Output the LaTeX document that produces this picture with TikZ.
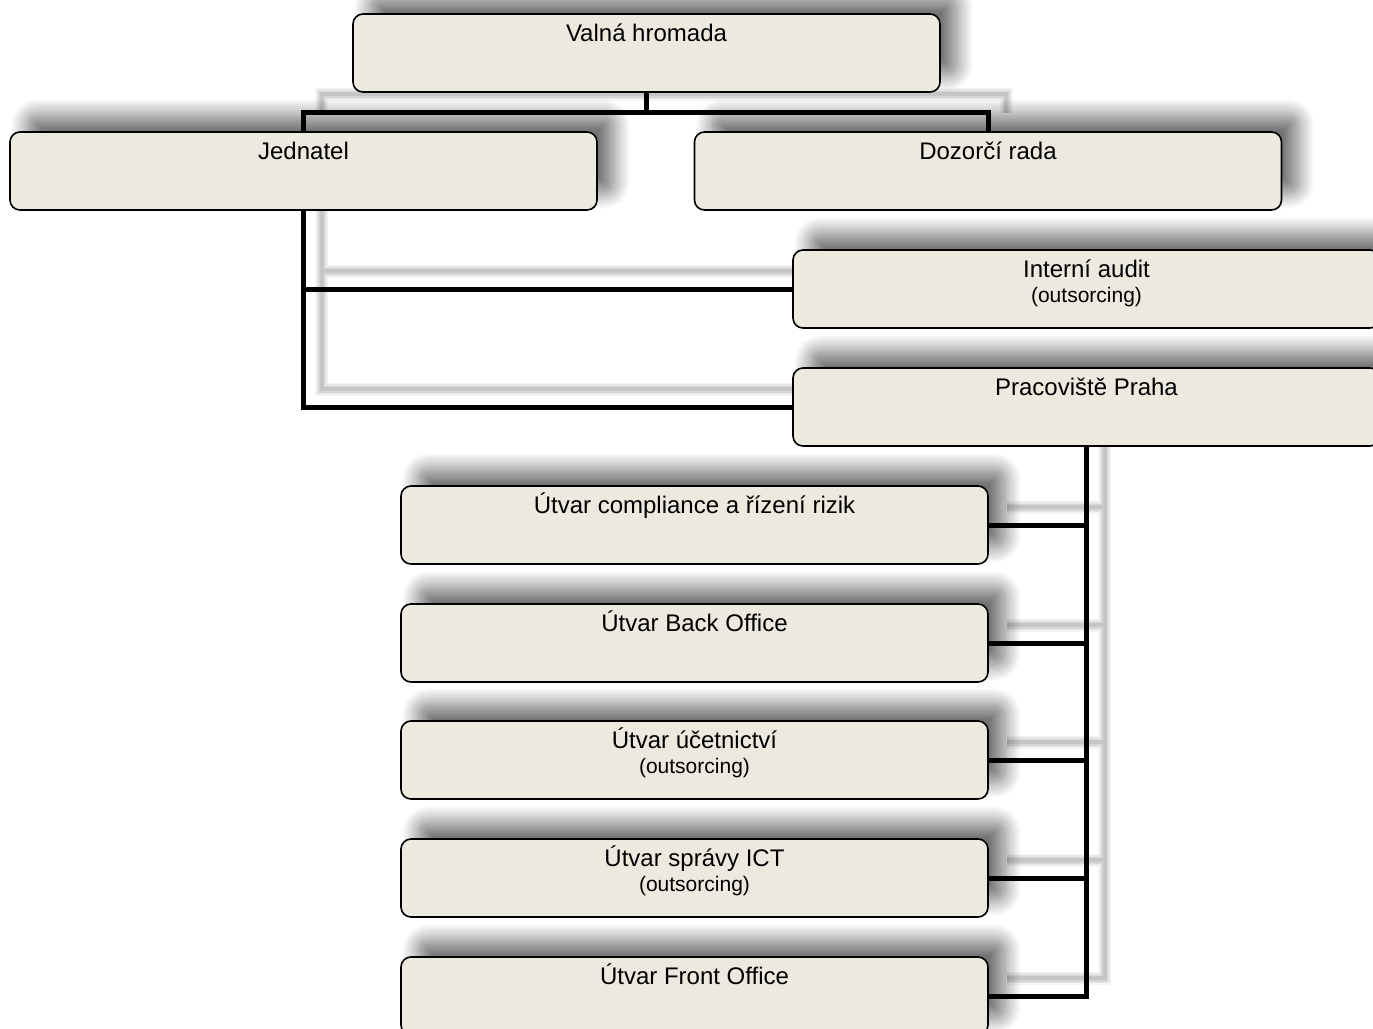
\documentclass[tikz,border=0pt]{standalone}
\usepackage{fontspec}
\setmainfont{Liberation Sans}
\usetikzlibrary{shadows.blur}
\definecolor{boxfill}{RGB}{236,233,223}
\pgfdeclarelayer{back}
\pgfsetlayers{back,main}
\newcommand{\notefont}{\fontsize{10.5}{12.5}\selectfont}
\newcommand{\twoline}[2]{\begin{tabular}[t]{@{}c@{}}#1\\\notefont #2\end{tabular}}
\tikzset{
  unit/.style={draw=black, line width=0.8pt, fill=boxfill, rounded corners=5pt,
    minimum width=293.5pt, minimum height=39pt, inner ysep=0pt,
    text height=13.5pt, text depth=25.5pt,
    font=\fontsize{12}{12.5}\selectfont,
    blur shadow={shadow xshift=8.5pt, shadow yshift=8.5pt, shadow blur radius=8pt,
      shadow blur steps=16, shadow opacity=55}},
  wire/.style={draw=black, line width=2.5pt,
    preaction={draw=black!70, line width=6.5pt, opacity=.06, transform canvas={shift={(9pt,9pt)}}},
    preaction={draw=black!70, line width=5pt, opacity=.08, transform canvas={shift={(9pt,9pt)}}},
    preaction={draw=black!70, line width=3.5pt, opacity=.1, transform canvas={shift={(9pt,9pt)}}},
    preaction={draw=black!70, line width=2pt, opacity=.12, transform canvas={shift={(9pt,9pt)}}}}
}
\begin{document}
\begin{tikzpicture}[x=0.5pt,y=-0.5pt]
\path[use as bounding box,clip] (0,0) rectangle (1373,1029);
\node[unit] (valna) at (646.5,53) {Valná hromada};
\node[unit] (jednatel) at (303.5,171) {Jednatel};
\node[unit] (dozorci) at (988,171) {Dozorčí rada};
\node[unit] (audit) at (1086.5,289) {\twoline{Interní audit}{(outsorcing)}};
\node[unit] (praha) at (1086.5,407) {Pracoviště Praha};
\node[unit] (compliance) at (694.5,525) {Útvar compliance a řízení rizik};
\node[unit] (backoffice) at (694.5,643) {Útvar Back Office};
\node[unit] (ucetnictvi) at (694.5,760) {\twoline{Útvar účetnictví}{(outsorcing)}};
\node[unit] (ict) at (694.5,878) {\twoline{Útvar správy ICT}{(outsorcing)}};
\node[unit] (frontoffice) at (694.5,996) {Útvar Front Office};
\coordinate (split) at (646.5,112);
\begin{pgfonlayer}{back}
\draw[wire] (valna.south) -- (split) (jednatel.north) |- (split) -| (dozorci.north);
\draw[wire] (jednatel.south) |- (audit.west) (jednatel.south) |- (praha.west);
\draw[wire] (praha.south) |- (compliance.east) (praha.south) |- (backoffice.east)
  (praha.south) |- (ucetnictvi.east) (praha.south) |- (ict.east)
  (praha.south) |- (frontoffice.east);
\end{pgfonlayer}
\end{tikzpicture}
\end{document}
